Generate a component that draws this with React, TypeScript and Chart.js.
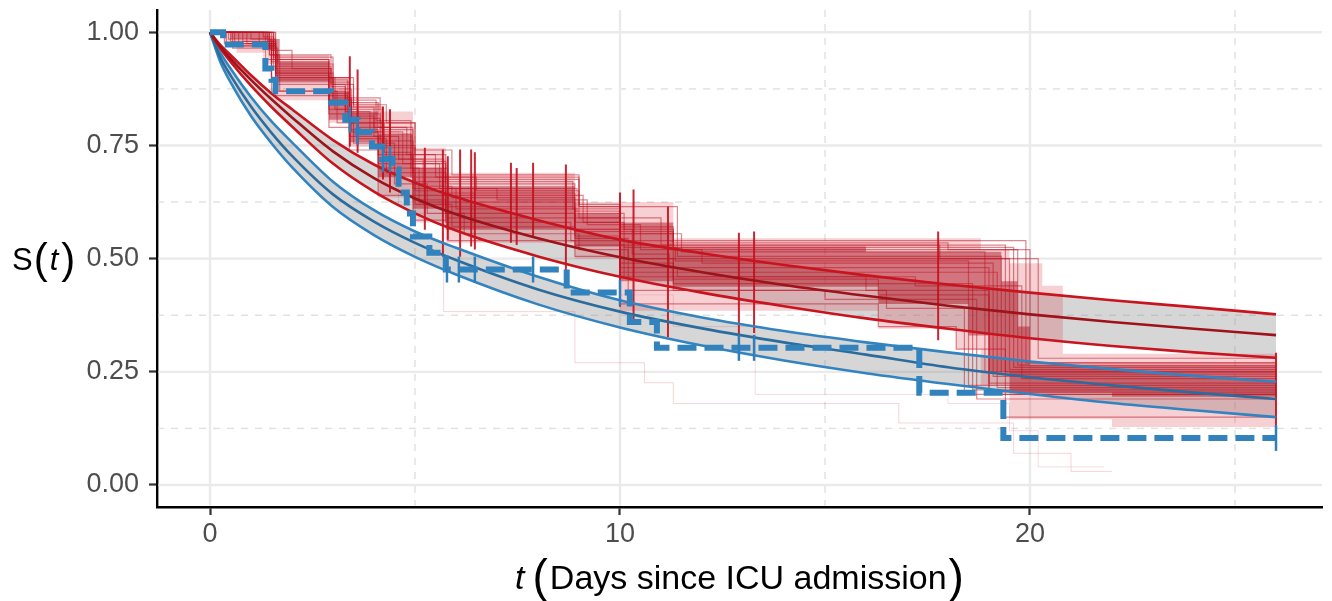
import React, { useEffect, useRef } from "react";
import { Chart, registerables } from "chart.js";

Chart.register(...registerables);

const FONT = "'Liberation Sans', Arial, Helvetica, sans-serif";

// axis ticks
const xTicks = [0, 10, 20];
const xMinor = [5, 15, 25];
const yTicks = [0, 0.25, 0.5, 0.75, 1];
const yMinor = [0.125, 0.375, 0.625, 0.875];

// smooth model curves
const curveT = [0, 0.25, 0.5, 1, 1.5, 2, 3, 4, 5, 6, 8, 10, 12, 14, 16, 18, 20, 22, 24, 26];
const redUpper = [1, 0.972, 0.95, 0.905, 0.865, 0.83, 0.762, 0.708, 0.668, 0.636, 0.585, 0.542, 0.512, 0.486, 0.463, 0.443, 0.425, 0.408, 0.393, 0.377];
const redMid = [1, 0.968, 0.942, 0.895, 0.852, 0.812, 0.737, 0.678, 0.633, 0.598, 0.545, 0.503, 0.47, 0.442, 0.418, 0.396, 0.377, 0.36, 0.345, 0.331];
const redLower = [1, 0.965, 0.935, 0.882, 0.835, 0.792, 0.71, 0.648, 0.6, 0.562, 0.505, 0.46, 0.425, 0.395, 0.368, 0.345, 0.324, 0.307, 0.293, 0.281];
const blueUpper = [1, 0.955, 0.92, 0.857, 0.803, 0.757, 0.67, 0.607, 0.56, 0.524, 0.46, 0.408, 0.37, 0.34, 0.315, 0.293, 0.273, 0.256, 0.241, 0.228];
const blueMid = [1, 0.945, 0.905, 0.836, 0.778, 0.727, 0.642, 0.582, 0.535, 0.497, 0.432, 0.383, 0.346, 0.315, 0.288, 0.26, 0.238, 0.22, 0.204, 0.19];
const blueLower = [1, 0.935, 0.89, 0.815, 0.755, 0.702, 0.614, 0.552, 0.504, 0.465, 0.399, 0.348, 0.308, 0.275, 0.247, 0.223, 0.201, 0.181, 0.165, 0.15];

// observed Kaplan-Meier (blue, dashed)
const kmT = [0, 0.32, 1.35, 1.5, 1.6, 2.95, 3.3, 3.6, 3.95, 4.2, 4.45, 4.6, 4.8, 4.95, 5.35, 5.75, 8.7, 10.24, 10.9, 17.3, 19.35, 26];
const kmS = [1, 0.973, 0.92, 0.895, 0.87, 0.845, 0.807, 0.78, 0.748, 0.72, 0.697, 0.646, 0.6, 0.549, 0.513, 0.476, 0.425, 0.36, 0.303, 0.204, 0.104, 0.104];
const kmCensorT = [3.41, 3.6, 4.22, 4.39, 5.78, 6.07, 6.46, 7.88, 10.0, 12.9, 13.27, 26];
const kmCensorS = [0.807, 0.78, 0.72, 0.72, 0.476, 0.476, 0.476, 0.476, 0.425, 0.303, 0.303, 0.104];

// replicated KM draws (red): envelopes
const redOuterHiT = [0, 1.6, 2.9, 3.4, 4.15, 4.95, 5.75, 8.9, 11.3, 18.8, 19.5, 20.3, 20.8, 26];
const redOuterHi = [1, 0.95, 0.9, 0.845, 0.825, 0.745, 0.69, 0.625, 0.545, 0.52, 0.49, 0.44, 0.29, 0.29];
const redOuterLoT = [0, 0.35, 0.65, 1.35, 1.6, 2.9, 3.4, 4.1, 4.95, 5.75, 8.9, 10, 16.3, 18.2, 18.8, 19.5, 22, 26];
const redOuterLo = [1, 0.975, 0.955, 0.93, 0.85, 0.8, 0.748, 0.635, 0.58, 0.535, 0.5, 0.385, 0.345, 0.3, 0.22, 0.145, 0.128, 0.128];
const redCoreHiT = [0, 1.45, 1.7, 2.9, 3.4, 4.1, 4.95, 5.75, 8.9, 10, 11.3, 16, 19.3, 19.7, 20.0, 26];
const redCoreHi = [1, 0.985, 0.935, 0.87, 0.825, 0.775, 0.7, 0.66, 0.6, 0.58, 0.527, 0.515, 0.45, 0.35, 0.265, 0.265];
const redCoreLoT = [0, 0.5, 1.4, 1.6, 2.9, 3.4, 4.1, 4.95, 5.75, 8.9, 10, 11.3, 16.3, 18.5, 19.0, 19.5, 22, 26];
const redCoreLo = [1, 0.985, 0.96, 0.889, 0.807, 0.757, 0.68, 0.61, 0.564, 0.527, 0.45, 0.438, 0.4, 0.33, 0.25, 0.204, 0.195, 0.195];

// replicated KM draws (red): individual draws
const draw1T = [0, 1.55, 2.95, 3.5, 4.3, 5.0, 5.9, 9.0, 11.4, 19.9, 26];
const draw1S = [1, 0.95, 0.9, 0.84, 0.8, 0.74, 0.685, 0.615, 0.54, 0.27, 0.27];
const draw2T = [0, 1.4, 1.65, 3.0, 3.45, 4.2, 4.9, 5.8, 8.95, 10.1, 11.3, 19.6, 26];
const draw2S = [1, 0.965, 0.93, 0.875, 0.83, 0.775, 0.7, 0.655, 0.6, 0.565, 0.525, 0.26, 0.26];
const draw3T = [0, 1.0, 1.6, 2.9, 3.35, 4.15, 5.0, 5.7, 9.1, 10.0, 11.4, 19.3, 26];
const draw3S = [1, 0.985, 0.91, 0.86, 0.81, 0.75, 0.67, 0.64, 0.58, 0.54, 0.505, 0.245, 0.245];
const draw4T = [0, 0.6, 1.5, 3.0, 3.6, 4.4, 4.95, 6.0, 8.9, 10.3, 11.2, 19.0, 26];
const draw4S = [1, 0.975, 0.9, 0.845, 0.79, 0.72, 0.655, 0.61, 0.565, 0.51, 0.48, 0.225, 0.225];
const draw5T = [0, 0.4, 1.6, 2.9, 3.4, 4.1, 5.1, 5.75, 8.8, 10.0, 11.3, 18.6, 26];
const draw5S = [1, 0.97, 0.885, 0.82, 0.77, 0.7, 0.625, 0.58, 0.54, 0.47, 0.445, 0.21, 0.21];
const draw6T = [0, 1.45, 1.7, 3.1, 3.5, 4.5, 5.3, 6.2, 9.0, 10.2, 16.5, 18.4, 26];
const draw6S = [1, 0.95, 0.87, 0.8, 0.755, 0.665, 0.6, 0.555, 0.52, 0.43, 0.39, 0.2, 0.2];
const draw7T = [0, 0.35, 1.35, 1.6, 2.9, 3.4, 4.1, 4.95, 5.8, 8.9, 10, 16.3, 18.2, 19.4, 26];
const draw7S = [1, 0.975, 0.94, 0.86, 0.79, 0.74, 0.64, 0.585, 0.54, 0.505, 0.4, 0.35, 0.3, 0.15, 0.15];
const draw8T = [0, 1.5, 2.0, 2.95, 3.3, 4.0, 4.8, 5.5, 6.5, 9.0, 11.0, 17.8, 20.2, 26];
const draw8S = [1, 0.96, 0.92, 0.885, 0.835, 0.79, 0.73, 0.68, 0.65, 0.59, 0.53, 0.5, 0.28, 0.28];
const draw9T = [0, 0.8, 1.55, 2.95, 3.3, 3.9, 4.7, 5.6, 7.0, 9.2, 10.5, 12.0, 19.1, 26];
const draw9S = [1, 0.98, 0.925, 0.88, 0.825, 0.78, 0.71, 0.655, 0.63, 0.575, 0.52, 0.49, 0.24, 0.24];
const draw10T = [0, 1.2, 1.6, 2.9, 3.45, 4.25, 4.9, 5.75, 8.9, 10.0, 11.3, 17.2, 19.8, 26];
const draw10S = [1, 0.97, 0.905, 0.85, 0.8, 0.735, 0.68, 0.625, 0.56, 0.5, 0.46, 0.44, 0.235, 0.235];
const draw11T = [0, 0.5, 1.45, 1.65, 3.05, 3.4, 4.1, 4.95, 5.75, 8.9, 10.2, 11.3, 19.2, 26];
const draw11S = [1, 0.98, 0.95, 0.9, 0.83, 0.785, 0.73, 0.64, 0.6, 0.545, 0.5, 0.47, 0.215, 0.215];
const draw12T = [0, 1.55, 2.9, 3.35, 4.05, 4.9, 5.7, 8.85, 10.0, 11.5, 18.9, 26];
const draw12S = [1, 0.94, 0.895, 0.85, 0.805, 0.72, 0.67, 0.61, 0.555, 0.515, 0.25, 0.25];
const draw13T = [0, 0.7, 1.5, 2.9, 3.6, 4.3, 5.0, 5.9, 8.9, 10.1, 11.3, 15.0, 18.7, 26];
const draw13S = [1, 0.97, 0.87, 0.83, 0.765, 0.69, 0.62, 0.57, 0.53, 0.46, 0.43, 0.41, 0.19, 0.19];
const draw14T = [0, 1.35, 1.6, 2.95, 3.4, 4.15, 4.95, 5.75, 8.9, 10.0, 11.3, 19.5, 26];
const draw14S = [1, 0.975, 0.92, 0.865, 0.82, 0.76, 0.69, 0.645, 0.59, 0.53, 0.5, 0.255, 0.255];
const draw15T = [0, 1.6, 3.0, 3.45, 4.2, 5.0, 5.75, 8.9, 10.0, 11.4, 16.0, 19.0, 26];
const draw15S = [1, 0.91, 0.855, 0.8, 0.745, 0.65, 0.615, 0.565, 0.48, 0.46, 0.43, 0.2, 0.2];
const draw16T = [0, 0.45, 1.5, 2.9, 3.4, 4.1, 4.95, 5.75, 9.0, 10.0, 11.3, 18.0, 20.0, 26];
const draw16S = [1, 0.985, 0.935, 0.89, 0.845, 0.79, 0.71, 0.675, 0.62, 0.57, 0.535, 0.52, 0.27, 0.27];
const draw17T = [0, 0.9, 1.6, 2.9, 3.3, 4.0, 4.6, 5.2, 5.9, 8.9, 10.1, 11.35, 18.5, 26];
const draw17S = [1, 0.975, 0.915, 0.87, 0.815, 0.77, 0.72, 0.66, 0.635, 0.58, 0.525, 0.495, 0.22, 0.22];
const draw18T = [0, 1.3, 1.55, 3.0, 3.5, 4.2, 4.95, 5.75, 8.9, 10.0, 11.3, 19.7, 26];
const draw18S = [1, 0.99, 0.945, 0.885, 0.835, 0.785, 0.715, 0.665, 0.605, 0.555, 0.52, 0.265, 0.265];
const draw19T = [0, 0.55, 1.5, 2.9, 3.45, 4.1, 4.95, 5.75, 8.9, 10.0, 11.3, 16.3, 19.0, 26];
const draw19S = [1, 0.965, 0.895, 0.84, 0.78, 0.71, 0.63, 0.59, 0.55, 0.49, 0.455, 0.42, 0.205, 0.205];
const draw20T = [0, 1.45, 1.6, 2.9, 3.4, 4.15, 5.0, 5.75, 9.0, 10.0, 11.3, 19.4, 26];
const draw20S = [1, 0.98, 0.94, 0.9, 0.855, 0.8, 0.73, 0.68, 0.615, 0.56, 0.53, 0.25, 0.25];
const outlier1T = [0, 1.3, 2.9, 3.5, 4.6, 5.7, 8.9, 10.6, 11.3, 16.8, 19.6, 21.0, 22.0];
const outlier1S = [1, 0.94, 0.86, 0.78, 0.62, 0.383, 0.27, 0.226, 0.18, 0.137, 0.07, 0.03, 0.03];
const outlier2T = [0, 1.6, 3.4, 4.95, 10.0, 11.3, 13.3, 18.0, 19.5, 20.2, 21.8];
const outlier2S = [1, 0.9, 0.77, 0.6, 0.42, 0.35, 0.2, 0.18, 0.12, 0.04, 0.04];

// censoring marks of the red draws (vertical spreads)
const redCensorT = [3.41, 3.6, 4.22, 4.39, 5.24, 5.68, 5.8, 6.1, 6.37, 6.46, 7.34, 7.48, 7.88, 8.68, 10.0, 10.33, 11.17, 12.9, 13.27, 17.76, 26];
const redCensorLo = [0.748, 0.734, 0.675, 0.646, 0.564, 0.504, 0.542, 0.504, 0.527, 0.52, 0.535, 0.53, 0.549, 0.438, 0.394, 0.365, 0.327, 0.327, 0.336, 0.32, 0.128];
const redCensorHi = [0.947, 0.918, 0.836, 0.83, 0.745, 0.741, 0.726, 0.741, 0.741, 0.735, 0.712, 0.7, 0.712, 0.708, 0.646, 0.653, 0.615, 0.557, 0.56, 0.56, 0.292];

const X_MIN = -1.2927;
const X_MAX = 27.122;
const Y_MIN = -0.0486;
const Y_MAX = 1.0493;

const pts = (ts: number[], ys: number[]) => ts.map((t, i) => ({ x: t, y: ys[i] }));

const gridPlugin = {
  id: "ggGrid",
  beforeDatasetsDraw(chart: any) {
    const { ctx, chartArea: a, scales } = chart;
    const x = scales.x;
    const y = scales.y;
    ctx.save();
    ctx.beginPath();
    ctx.rect(a.left + 1.5, a.top, a.right - a.left - 1.5, a.bottom - a.top - 1.5);
    ctx.clip();
    const seg = (x1: number, y1: number, x2: number, y2: number) => {
      ctx.beginPath();
      ctx.moveTo(x1, y1);
      ctx.lineTo(x2, y2);
      ctx.stroke();
    };
    ctx.strokeStyle = "#E0E0E0";
    ctx.lineWidth = 1.4;
    ctx.setLineDash([7, 7]);
    xMinor.forEach((v) => {
      const p = x.getPixelForValue(v);
      seg(p, a.top, p, a.bottom);
    });
    yMinor.forEach((v) => {
      const p = y.getPixelForValue(v);
      seg(a.left, p, a.right, p);
    });
    ctx.setLineDash([]);
    ctx.strokeStyle = "#EAEAEA";
    ctx.lineWidth = 2.4;
    xTicks.forEach((v) => {
      const p = x.getPixelForValue(v);
      seg(p, a.top, p, a.bottom);
    });
    yTicks.forEach((v) => {
      const p = y.getPixelForValue(v);
      seg(a.left, p, a.right, p);
    });
    ctx.restore();
  },
};

const titlePlugin = {
  id: "ggTitles",
  afterDraw(chart: any) {
    const { ctx, chartArea: a } = chart;
    ctx.save();
    ctx.fillStyle = "#000000";
    ctx.textAlign = "left";
    ctx.textBaseline = "alphabetic";
    // y title: S(t)
    let x = 12;
    const yb = 270;
    ctx.font = `31px ${FONT}`;
    ctx.fillText("S", x, yb);
    x += ctx.measureText("S").width + 1;
    ctx.font = `42px ${FONT}`;
    ctx.fillText("(", x, yb + 3);
    x += ctx.measureText("(").width + 2;
    ctx.font = `italic 31px ${FONT}`;
    ctx.fillText("t", x, yb);
    x += ctx.measureText("t").width + 3;
    ctx.font = `42px ${FONT}`;
    ctx.fillText(")", x, yb + 3);

    // x title: t (Days since ICU admission)
    const xb = 589;
    const main = "Days since ICU admission";
    ctx.font = `italic 34px ${FONT}`;
    const wT = ctx.measureText("t").width;
    ctx.font = `46px ${FONT}`;
    const wP = ctx.measureText("(").width;
    ctx.font = `34px ${FONT}`;
    const wM = ctx.measureText(main).width;
    const gap1 = 8;
    const gap2 = 2;
    const total = wT + gap1 + wP + gap2 + wM + gap2 + wP;
    let cx = (a.left + a.right) / 2 - total / 2;
    ctx.font = `italic 34px ${FONT}`;
    ctx.fillText("t", cx, xb);
    cx += wT + gap1;
    ctx.font = `46px ${FONT}`;
    ctx.fillText("(", cx, xb + 3);
    cx += wP + gap2;
    ctx.font = `34px ${FONT}`;
    ctx.fillText(main, cx, xb);
    cx += wM + gap2;
    ctx.font = `46px ${FONT}`;
    ctx.fillText(")", cx, xb + 3);
    ctx.restore();
  },
};

export default function App() {
  const ref = useRef<HTMLCanvasElement>(null);

  useEffect(() => {
    const canvas = ref.current;
    if (!canvas) return;
    const datasets: any[] = [];
    const add = (d: any) => {
      datasets.push({
        pointRadius: 0,
        pointHoverRadius: 0,
        borderWidth: 0,
        borderColor: "rgba(0,0,0,0)",
        fill: false,
        ...d,
      });
      return datasets.length - 1;
    };

    const ribbon = "rgba(140,140,140,0.36)";
    // gray ribbons
    const blIdx = add({ data: pts(curveT, blueLower), order: 201, cubicInterpolationMode: "monotone" });
    add({ data: pts(curveT, blueUpper), order: 200, cubicInterpolationMode: "monotone", fill: blIdx, backgroundColor: ribbon });
    const rlIdx = add({ data: pts(curveT, redLower), order: 199, cubicInterpolationMode: "monotone" });
    add({ data: pts(curveT, redUpper), order: 198, cubicInterpolationMode: "monotone", fill: rlIdx, backgroundColor: ribbon });

    // red draws envelopes
    const oLo = add({ data: pts(redOuterLoT, redOuterLo), order: 191, stepped: "before" });
    add({ data: pts(redOuterHiT, redOuterHi), order: 190, stepped: "before", fill: oLo, backgroundColor: "rgba(215,40,55,0.22)" });
    const cLo = add({ data: pts(redCoreLoT, redCoreLo), order: 181, stepped: "before" });
    add({ data: pts(redCoreHiT, redCoreHi), order: 180, stepped: "before", fill: cLo, backgroundColor: "rgba(172,18,34,0.48)" });

    // individual draws
    const drawLine = "rgba(190,16,32,0.5)";
    [
      [draw1T, draw1S],
      [draw2T, draw2S],
      [draw3T, draw3S],
      [draw4T, draw4S],
      [draw5T, draw5S],
      [draw6T, draw6S],
      [draw7T, draw7S],
      [draw8T, draw8S],
      [draw9T, draw9S],
      [draw10T, draw10S],
      [draw11T, draw11S],
      [draw12T, draw12S],
      [draw13T, draw13S],
      [draw14T, draw14S],
      [draw15T, draw15S],
      [draw16T, draw16S],
      [draw17T, draw17S],
      [draw18T, draw18S],
      [draw19T, draw19S],
      [draw20T, draw20S],
    ].forEach(([t, s], i) =>
      add({ data: pts(t, s), order: 170 - i * 0.1, stepped: "before", borderWidth: 1.2, borderColor: drawLine })
    );
    add({ data: pts(outlier1T, outlier1S), order: 172, stepped: "before", borderWidth: 1, borderColor: "rgba(215,60,75,0.22)" });
    add({ data: pts(outlier2T, outlier2S), order: 173, stepped: "before", borderWidth: 1, borderColor: "rgba(215,60,75,0.18)" });

    // red censor spreads
    const censorData: any[] = [];
    redCensorT.forEach((t, i) => {
      censorData.push({ x: t, y: redCensorLo[i] });
      censorData.push({ x: t, y: redCensorHi[i] });
      censorData.push({ x: t, y: null });
    });
    add({ data: censorData, order: 150, borderWidth: 2, borderColor: "rgba(195,14,30,0.9)", spanGaps: false });

    // smooth model lines
    const redC = "#C8141E";
    const redDark = "#9E1219";
    const blueC = "#3184C0";
    const blueDark = "#2B6C9E";
    add({ data: pts(curveT, blueLower), order: 120, cubicInterpolationMode: "monotone", borderWidth: 2.6, borderColor: blueC });
    add({ data: pts(curveT, blueUpper), order: 119, cubicInterpolationMode: "monotone", borderWidth: 2.6, borderColor: blueC });
    add({ data: pts(curveT, blueMid), order: 118, cubicInterpolationMode: "monotone", borderWidth: 2.6, borderColor: blueDark });
    add({ data: pts(curveT, redLower), order: 117, cubicInterpolationMode: "monotone", borderWidth: 2.6, borderColor: redC });
    add({ data: pts(curveT, redUpper), order: 116, cubicInterpolationMode: "monotone", borderWidth: 2.6, borderColor: redC });
    add({ data: pts(curveT, redMid), order: 115, cubicInterpolationMode: "monotone", borderWidth: 2.6, borderColor: redDark });

    // observed KM
    add({
      data: pts(kmT, kmS),
      order: 100,
      stepped: "before",
      borderWidth: 6,
      borderColor: "#3182BD",
      borderDash: [19, 8],
      borderCapStyle: "butt",
    });
    add({
      data: pts(kmCensorT, kmCensorS),
      order: 90,
      showLine: false,
      pointStyle: "line",
      pointRotation: 90,
      pointRadius: 13,
      pointHoverRadius: 13,
      pointBorderWidth: 2.5,
      pointBorderColor: "#2E7EBA",
      pointBackgroundColor: "#2E7EBA",
    });

    const chart = new Chart(canvas, {
      type: "line",
      data: { datasets },
      options: {
        animation: false,
        responsive: false,
        maintainAspectRatio: false,
        events: [],
        layout: { autoPadding: false, padding: { top: 10, right: 10, left: 0, bottom: 0 } },
        plugins: {
          legend: { display: false },
          tooltip: { enabled: false },
          title: { display: false },
        },
        scales: {
          x: {
            type: "linear",
            min: X_MIN,
            max: X_MAX,
            afterBuildTicks: (s: any) => {
              s.ticks = xTicks.map((v) => ({ value: v }));
            },
            afterFit: (s: any) => {
              s.height = 94;
              s.paddingLeft = 0;
              s.paddingRight = 0;
            },
            ticks: {
              font: { family: FONT, size: 27 },
              color: "#4D4D4D",
              padding: 3,
              maxRotation: 0,
              autoSkip: false,
              callback: (v: any) => String(v),
            },
            grid: { drawOnChartArea: false, drawTicks: true, tickLength: 8, tickColor: "#333333", tickWidth: 2.2 },
            border: { display: true, color: "#000000", width: 2.4 },
          },
          y: {
            type: "linear",
            min: Y_MIN,
            max: Y_MAX,
            afterBuildTicks: (s: any) => {
              s.ticks = yTicks.map((v) => ({ value: v }));
            },
            afterFit: (s: any) => {
              s.width = 157;
              s.paddingTop = 0;
              s.paddingBottom = 0;
            },
            ticks: {
              font: { family: FONT, size: 27, lineHeight: 0.6 },
              color: "#4D4D4D",
              padding: 10,
              autoSkip: false,
              callback: (v: any) => Number(v).toFixed(2),
            },
            grid: { drawOnChartArea: false, drawTicks: true, tickLength: 8, tickColor: "#333333", tickWidth: 2.2 },
            border: { display: true, color: "#000000", width: 2.4 },
          },
        },
      } as any,
      plugins: [gridPlugin, titlePlugin],
    });
    return () => chart.destroy();
  }, []);

  return (
    <div style={{ position: "fixed", left: 0, top: 0, width: 1332, height: 601, background: "#FFFFFF" }}>
      <canvas ref={ref} width={1332} height={601} style={{ display: "block", width: 1332, height: 601 }} />
    </div>
  );
}
